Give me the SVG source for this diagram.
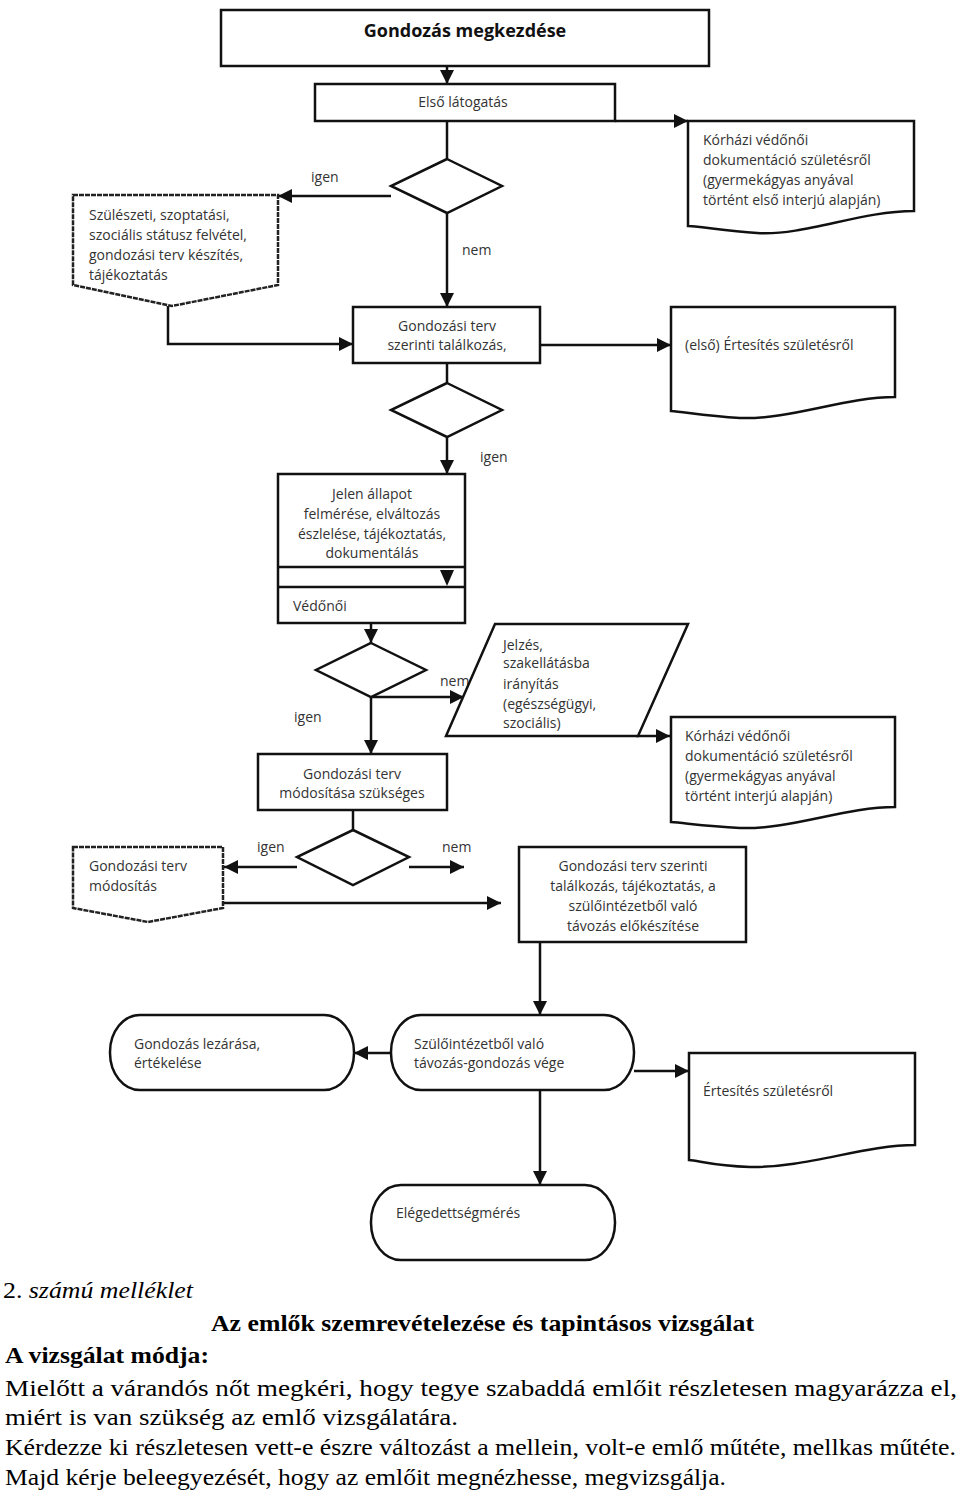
<svg xmlns="http://www.w3.org/2000/svg" width="960" height="1494" viewBox="0 0 960 1494">
<style>
.s{fill:#fff;stroke:#111;stroke-width:2.5}
.p{fill:#fff;stroke:#222;stroke-width:2.5;stroke-dasharray:5 1}
.c{fill:none;stroke:#111;stroke-width:2.5}
.t{font-family:"Open Sans","Liberation Sans",sans-serif;font-size:14px;fill:#333}
.m{text-anchor:middle}
.b{font-family:"Open Sans","Liberation Sans",sans-serif;font-size:18px;font-weight:bold;fill:#111;text-anchor:middle}
.r{font-family:"Liberation Serif","Times New Roman",serif;font-size:24px;fill:#000}
.rb{font-weight:bold}
</style>
<defs>
<marker id="a" markerUnits="userSpaceOnUse" markerWidth="14" markerHeight="14" viewBox="0 0 14 14" refX="14" refY="7" orient="auto">
<path d="M0,0 L14,7 L0,14 Z" fill="#111"/>
</marker>
</defs>

<g id="connectors">
<path class="c" d="M447,66 V84" marker-end="url(#a)"/>
<path class="c" d="M615,121 H688" marker-end="url(#a)"/>
<path class="c" d="M447,121 V159"/>
<path class="c" d="M391,196 H278" marker-end="url(#a)"/>
<path class="c" d="M447,213 V307" marker-end="url(#a)"/>
<path class="c" d="M168,306 V344 H353" marker-end="url(#a)"/>
<path class="c" d="M540,345 H671" marker-end="url(#a)"/>
<path class="c" d="M447,363 V383"/>
<path class="c" d="M447,437 V474" marker-end="url(#a)"/>
<path class="c" d="M371,623 V643" marker-end="url(#a)"/>
<path class="c" d="M371,697 H464" marker-end="url(#a)"/>
<path class="c" d="M371,697 V754" marker-end="url(#a)"/>
<path class="c" d="M636,736 H670" marker-end="url(#a)"/>
<path class="c" d="M353,810 V830"/>
<path class="c" d="M297,867 H224" marker-end="url(#a)"/>
<path class="c" d="M409,867 H464" marker-end="url(#a)"/>
<path class="c" d="M223,903 H501" marker-end="url(#a)"/>
<path class="c" d="M540,942 V1015" marker-end="url(#a)"/>
<path class="c" d="M391,1053 H354" marker-end="url(#a)"/>
<path class="c" d="M634,1071 H689" marker-end="url(#a)"/>
<path class="c" d="M540,1090 V1185" marker-end="url(#a)"/>
<text class="t" x="311" y="182">igen</text>
<text class="t" x="462" y="255">nem</text>
<text class="t" x="480" y="462">igen</text>
<text class="t" x="440" y="686">nem</text>
<text class="t" x="294" y="722">igen</text>
<text class="t" x="257" y="852">igen</text>
<text class="t" x="442" y="852">nem</text>
</g>

<g id="start">
<rect class="s" x="221" y="10" width="488" height="56" stroke-width="3"/>
<text class="b" x="465" y="37">Gondozás megkezdése</text>
</g>

<g id="first-visit">
<rect class="s" x="315" y="84" width="300" height="37"/>
<text class="t m" x="463" y="107">Első látogatás</text>
</g>

<g id="doc-hospital-1">
<path class="s" d="M688,121 H914 V211 C860,211 805,236 757,233 C725,231 705,227 688,226 Z"/>
<text class="t" x="703" y="145">Kórházi védőnői</text>
<text class="t" x="703" y="165">dokumentáció születésről</text>
<text class="t" x="703" y="185">(gyermekágyas anyával</text>
<text class="t" x="703" y="205">történt első interjú alapján)</text>
</g>

<g id="decision-1">
<path class="s" d="M447,159 L502,186 L447,213 L391,186 Z"/>
</g>

<g id="status">
<path class="p" d="M73,195 H278 V285 L172,306 L73,285 Z"/>
<text class="t" x="89" y="220">Szülészeti, szoptatási,</text>
<text class="t" x="89" y="240">szociális státusz felvétel,</text>
<text class="t" x="89" y="260">gondozási terv készítés,</text>
<text class="t" x="89" y="280">tájékoztatás</text>
</g>

<g id="meeting">
<rect class="s" x="353" y="307" width="187" height="56"/>
<text class="t m" x="447" y="331">Gondozási terv</text>
<text class="t m" x="447" y="350">szerinti találkozás,</text>
</g>

<g id="doc-notice-1">
<path class="s" d="M671,307 H895 V397 C845,397 790,420 740,418 C705,416 685,412 671,411 Z"/>
<text class="t" x="685" y="350">(első) Értesítés születésről</text>
</g>

<g id="decision-2">
<path class="s" d="M447,383 L502,410 L447,437 L391,410 Z"/>
</g>

<g id="assessment">
<rect class="s" x="278" y="474" width="187" height="149"/>
<line class="c" x1="278" y1="567" x2="465" y2="567"/>
<line class="c" x1="278" y1="587" x2="465" y2="587"/>
<path d="M440,570 L454,570 L447,586 Z" fill="#111"/>
<text class="t m" x="372" y="499">Jelen állapot</text>
<text class="t m" x="372" y="519">felmérése, elváltozás</text>
<text class="t m" x="372" y="539">észlelése, tájékoztatás,</text>
<text class="t m" x="372" y="558">dokumentálás</text>
<text class="t" x="293" y="611">Védőnői</text>
</g>

<g id="decision-3">
<path class="s" d="M371,643 L426,670 L371,697 L316,670 Z"/>
</g>

<g id="referral">
<path class="s" d="M495,624 H688 L638,736 H446 Z"/>
<text class="t" x="503" y="650">Jelzés,</text>
<text class="t" x="503" y="668">szakellátásba</text>
<text class="t" x="503" y="689">irányítás</text>
<text class="t" x="503" y="709">(egészségügyi,</text>
<text class="t" x="503" y="728">szociális)</text>
</g>

<g id="doc-hospital-2">
<path class="s" d="M671,717 H895 V807 C845,807 790,830 740,828 C705,826 685,823 671,822 Z"/>
<text class="t" x="685" y="741">Kórházi védőnői</text>
<text class="t" x="685" y="761">dokumentáció születésről</text>
<text class="t" x="685" y="781">(gyermekágyas anyával</text>
<text class="t" x="685" y="801">történt interjú alapján)</text>
</g>

<g id="plan-change-needed">
<rect class="s" x="258" y="754" width="189" height="56"/>
<text class="t m" x="352" y="779">Gondozási terv</text>
<text class="t m" x="352" y="798">módosítása szükséges</text>
</g>

<g id="decision-4">
<path class="s" d="M353,830 L409,857 L353,885 L297,857 Z"/>
</g>

<g id="plan-change">
<path class="p" d="M73,847 H223 V908 L148,922 L73,908 Z"/>
<text class="t" x="89" y="871">Gondozási terv</text>
<text class="t" x="89" y="891">módosítás</text>
</g>

<g id="discharge-prep">
<rect class="s" x="519" y="847" width="227" height="95"/>
<text class="t m" x="633" y="871">Gondozási terv szerinti</text>
<text class="t m" x="633" y="891">találkozás, tájékoztatás, a</text>
<text class="t m" x="633" y="911">szülőintézetből való</text>
<text class="t m" x="633" y="931">távozás előkészítése</text>
</g>

<g id="discharge">
<rect class="s" x="391" y="1015" width="243" height="75" rx="30" ry="37"/>
<text class="t" x="414" y="1049">Szülőintézetből való</text>
<text class="t" x="414" y="1068">távozás-gondozás vége</text>
</g>

<g id="closure">
<rect class="s" x="110" y="1015" width="244" height="75" rx="30" ry="37"/>
<text class="t" x="134" y="1049">Gondozás lezárása,</text>
<text class="t" x="134" y="1068">értékelése</text>
</g>

<g id="doc-notice-2">
<path class="s" d="M689,1053 H915 V1145 C865,1145 805,1168 750,1167 C715,1166 700,1161 689,1160 Z"/>
<text class="t" x="703" y="1096">Értesítés születésről</text>
</g>

<g id="satisfaction">
<rect class="s" x="371" y="1185" width="244" height="75" rx="30" ry="37"/>
<text class="t" x="396" y="1218">Elégedettségmérés</text>
</g>

<g id="body-text">
<text class="r" x="3" y="1298" textLength="190" lengthAdjust="spacingAndGlyphs">2. <tspan font-style="italic">számú melléklet</tspan></text>
<text class="r rb" x="211" y="1331" textLength="543" lengthAdjust="spacingAndGlyphs">Az emlők szemrevételezése és tapintásos vizsgálat</text>
<text class="r rb" x="5" y="1363" textLength="204" lengthAdjust="spacingAndGlyphs">A vizsgálat módja:</text>
<text class="r" x="5" y="1396" textLength="952" lengthAdjust="spacingAndGlyphs">Mielőtt a várandós nőt megkéri, hogy tegye szabaddá emlőit részletesen magyarázza el,</text>
<text class="r" x="5" y="1425" textLength="453" lengthAdjust="spacingAndGlyphs">miért is van szükség az emlő vizsgálatára.</text>
<text class="r" x="5" y="1455" textLength="951" lengthAdjust="spacingAndGlyphs">Kérdezze ki részletesen vett-e észre változást a mellein, volt-e emlő műtéte, mellkas műtéte.</text>
<text class="r" x="5" y="1485" textLength="721" lengthAdjust="spacingAndGlyphs">Majd kérje beleegyezését, hogy az emlőit megnézhesse, megvizsgálja.</text>
</g>
</svg>
